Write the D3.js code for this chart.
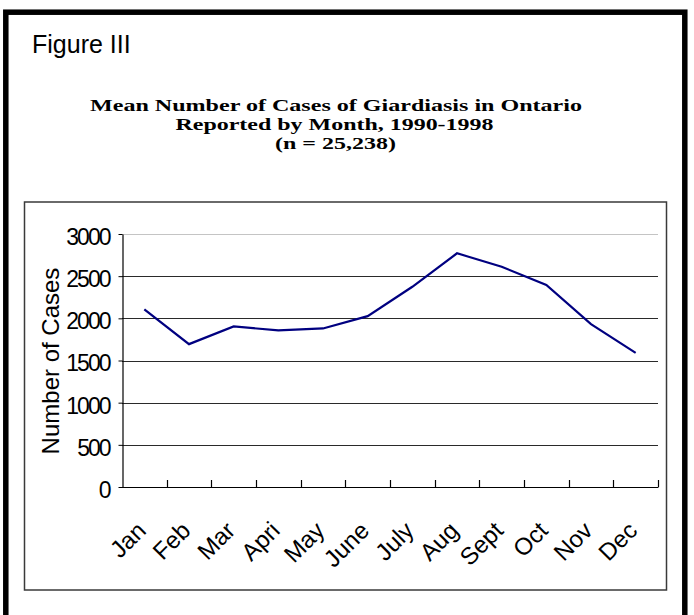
<!DOCTYPE html>
<html>
<head>
<meta charset="utf-8">
<script src="https://cdn.jsdelivr.net/npm/d3@7"></script>
<style>
  html, body { margin: 0; padding: 0; background: #fff; }
  svg { display: block; }
</style>
</head>
<body>
<script>
// ---- data ----
const months = ["Jan", "Feb", "Mar", "Apri", "May", "June", "July", "Aug", "Sept", "Oct", "Nov", "Dec"];
const cases = [2106, 1694, 1904, 1857, 1880, 2026, 2374, 2771, 2612, 2395, 1931, 1591];
const yTicks = [0, 500, 1000, 1500, 2000, 2500, 3000];
const figureLabel = "Figure III";
const titleLines = [
  "Mean Number of Cases of Giardiasis in Ontario",
  "Reported by Month, 1990-1998",
  "(n = 25,238)"
];
const yAxisTitle = "Number of Cases";

// ---- layout ----
const W = 694, H = 615;
const plot = { left: 122, right: 658, top: 234, bottom: 487 };
const titleLayout = [
  { x: 90, y: 111, len: 492 },
  { x: 175.5, y: 130, len: 318 },
  { x: 275, y: 149, len: 121 }
];

const svg = d3.select("body").append("svg")
  .attr("width", W).attr("height", H);

svg.append("rect").attr("width", W).attr("height", H).attr("fill", "#fff");

// outer thick frame (bottom runs off the page)
svg.append("rect")
  .attr("x", 5.8).attr("y", 12.2)
  .attr("width", 679).attr("height", 700)
  .attr("fill", "none").attr("stroke", "#000").attr("stroke-width", 5.5);

// figure label
svg.append("text")
  .attr("x", 32).attr("y", 53)
  .attr("font-family", "Liberation Sans, Arial, sans-serif")
  .attr("font-size", 25)
  .attr("fill", "#000")
  .text(figureLabel);

// title lines
svg.append("g").selectAll("text")
  .data(titleLines)
  .join("text")
  .attr("x", (d, i) => titleLayout[i].x)
  .attr("y", (d, i) => titleLayout[i].y)
  .attr("textLength", (d, i) => titleLayout[i].len)
  .attr("lengthAdjust", "spacingAndGlyphs")
  .attr("font-family", "Liberation Serif, Times New Roman, serif")
  .attr("font-weight", "bold")
  .attr("font-size", 17)
  .attr("fill", "#000")
  .text(d => d);

// inner chart frame
svg.append("rect")
  .attr("x", 24.5).attr("y", 202)
  .attr("width", 642).attr("height", 388)
  .attr("fill", "#fff").attr("stroke", "#3a3a3a").attr("stroke-width", 1.5);

// scales
const x = d3.scaleBand().domain(months).range([plot.left, plot.right]).padding(0);
const y = d3.scaleLinear().domain([0, 3000]).range([plot.bottom, plot.top]);

// gridlines
svg.append("g").selectAll("line")
  .data(yTicks.filter(t => t > 0))
  .join("line")
  .attr("x1", plot.left).attr("x2", plot.right)
  .attr("y1", d => Math.round(y(d)) + 0.5)
  .attr("y2", d => Math.round(y(d)) + 0.5)
  .attr("stroke", d => d === 3000 ? "#c4c4c4" : "#2a2a2a")
  .attr("stroke-width", 1.2);

// y axis
const yAxis = svg.append("g")
  .attr("transform", `translate(${plot.left + 0.5},0)`)
  .call(d3.axisLeft(y).tickValues(yTicks).tickFormat(d3.format("d"))
    .tickSize(4).tickPadding(9).tickSizeOuter(0));
yAxis.select(".domain").attr("stroke", "#000").attr("stroke-width", 1.2);
yAxis.selectAll(".tick line").attr("stroke", "#000");
yAxis.selectAll(".tick text")
  .attr("font-family", "Liberation Sans, Arial, sans-serif")
  .attr("font-size", 23)
  .attr("letter-spacing", "-2px")
  .attr("fill", "#000")
  .attr("dy", "0.45em");

// x axis line
svg.append("line")
  .attr("x1", plot.left).attr("x2", plot.right + 0.5)
  .attr("y1", plot.bottom + 0.5).attr("y2", plot.bottom + 0.5)
  .attr("stroke", "#000").attr("stroke-width", 1.2);

// x category boundary ticks (inside)
const boundaries = months.map(m => x(m)).concat([x.range()[1]]);
svg.append("g").selectAll("line")
  .data(boundaries.slice(1))
  .join("line")
  .attr("x1", d => Math.round(d) + 0.5).attr("x2", d => Math.round(d) + 0.5)
  .attr("y1", plot.bottom).attr("y2", plot.bottom - 7)
  .attr("stroke", "#000").attr("stroke-width", 1.2);

// x labels
svg.append("g").selectAll("text")
  .data(months)
  .join("text")
  .attr("transform", d => `translate(${x(d) + x.bandwidth() / 2 + 3},532) rotate(-45)`)
  .attr("text-anchor", "end")
  .attr("font-family", "Liberation Sans, Arial, sans-serif")
  .attr("font-size", 24)
  .attr("fill", "#000")
  .text(d => d);

// y axis title
svg.append("text")
  .attr("transform", "translate(59,361) rotate(-90)")
  .attr("text-anchor", "middle")
  .attr("font-family", "Liberation Sans, Arial, sans-serif")
  .attr("font-size", 24)
  .attr("fill", "#000")
  .text(yAxisTitle);

// data line
const line = d3.line()
  .x((d, i) => x(months[i]) + x.bandwidth() / 2)
  .y(d => y(d));
svg.append("path")
  .datum(cases)
  .attr("d", line)
  .attr("fill", "none")
  .attr("stroke", "#000080")
  .attr("stroke-width", 2.2)
  .attr("stroke-linejoin", "miter");
</script>
</body>
</html>
